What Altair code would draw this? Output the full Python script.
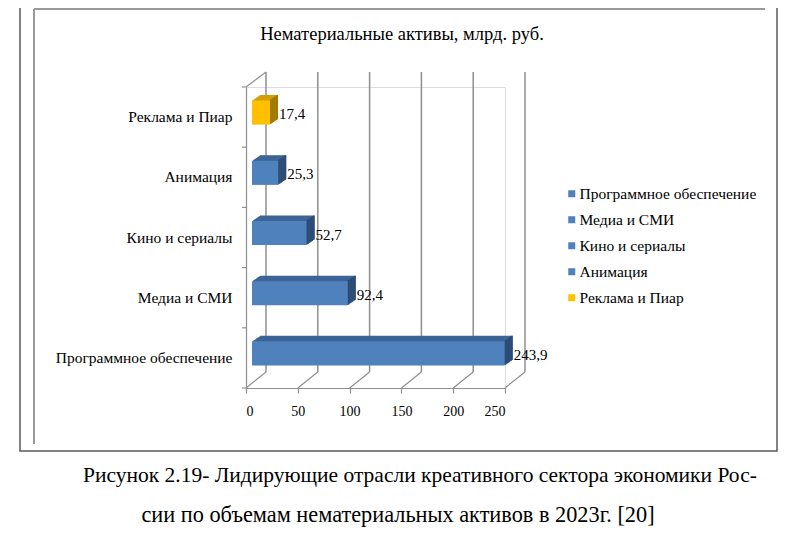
import altair as alt
import pandas as pd

# ---- data ----
categories = ["Программное обеспечение", "Медиа и СМИ", "Кино и сериалы", "Анимация", "Реклама и Пиар"]
values = [243.9, 92.4, 52.7, 25.3, 17.4]
value_labels = [str(v).replace(".", ",") for v in values]
front_colors = ["#4F81BD", "#4F81BD", "#4F81BD", "#4F81BD", "#FFC000"]
top_colors = ["#3C6496", "#3C6496", "#3C6496", "#3C6496", "#D49F00"]
side_colors = ["#2E4D75", "#2E4D75", "#2E4D75", "#2E4D75", "#A37A00"]
x_ticks = [0, 50, 100, 150, 200, 250]
title_text = "Нематериальные активы, млрд. руб."
caption_1 = "Рисунок 2.19- Лидирующие отрасли креативного сектора экономики Рос-"
caption_2 = "сии по объемам нематериальных активов в 2023г. [20]"

df = pd.DataFrame({"cat": categories, "val": values, "lbl": value_labels,
                   "front": front_colors, "top": top_colors, "side": side_colors})
ticks_df = pd.DataFrame({"val": x_ticks})
one = pd.DataFrame({"k": [0]})

FONT = "Liberation Serif"
W, H = 259, 301
order = categories[::-1]
GRID = "#8f8f8f"

xs = alt.Scale(domain=[0, 250], nice=False, zero=True)
ys = alt.Scale(domain=order, paddingInner=0.6, paddingOuter=0.3)

AX_X = alt.Axis(values=x_ticks, title=None, grid=False, labelFont=FONT, labelFontSize=14,
                labelColor="black", domainColor=GRID, domainWidth=1.2, tickColor=GRID,
                tickWidth=1.2, tickSize=5, labelPadding=11)
AX_Y = alt.Axis(title=None, ticks=False, labelFont=FONT, labelFontSize=15.5, labelColor="black",
                labelPadding=14, domainColor=GRID, domainWidth=1.2, labelLimit=400)

XE = alt.X("val:Q", scale=xs, axis=AX_X)
YE = alt.Y("cat:N", scale=ys, axis=AX_Y)

layers = []

# 3D bar: top sweep
N = 10
for i in range(N, 0, -1):
    f = i / N
    dx = 6 + 8 * f
    dy = -4.5 - 5.5 * f
    layers.append(alt.Chart(df).mark_bar(xOffset=dx, x2Offset=dx, yOffset=dy, y2Offset=dy).encode(
        x=XE, y=YE, color=alt.Color("top:N", scale=None)))
# side strips
for i in range(N, 0, -1):
    f = i / N
    dx = 6 + 8 * f
    dy = -4.5 - 5.5 * f
    layers.append(alt.Chart(df).mark_bar(xOffset=dx - 1.3, x2Offset=dx, yOffset=dy, y2Offset=dy).encode(
        x=XE, x2=alt.X2("val"), y=YE, color=alt.Color("side:N", scale=None)))

# front faces with legend
layers.append(alt.Chart(df).mark_bar(xOffset=6, x2Offset=6, yOffset=-4.5, y2Offset=-4.5).encode(
    x=XE, y=YE,
    color=alt.Color("cat:N", scale=alt.Scale(domain=categories, range=front_colors),
                    legend=alt.Legend(orient="none", legendX=318, legendY=99, title=None,
                                      symbolType="square", symbolSize=49, symbolStrokeWidth=0,
                                      labelFont=FONT, labelFontSize=15.5, labelColor="black",
                                      labelOffset=0, rowPadding=9, padding=0, labelLimit=400)),
))

# value labels
layers.append(alt.Chart(df).mark_text(align="left", baseline="middle", dx=15, dy=-3, font=FONT,
                                      fontSize=15, color="black").encode(
    x=XE, y=YE, text="lbl:N"))

# back wall grid
layers.insert(0, alt.Chart(ticks_df).mark_rule(xOffset=20, color=GRID, strokeWidth=1.5).encode(
    x=XE, y=alt.value(-15), y2=alt.value(285)))
# floor diagonals
layers.insert(0, alt.Chart(ticks_df).mark_rule(x2Offset=20, color=GRID, strokeWidth=1.2).encode(
    x=XE, x2=alt.X2("val"), y=alt.value(301), y2=alt.value(285)))
# y ticks at band boundaries
layers.insert(0, alt.Chart(df).mark_rule(yOffset=-30.1, color=GRID, strokeWidth=1.2).encode(
    y=YE, x=alt.value(-4), x2=alt.value(0)))

# left wall top diagonal, bottom tick
layers.append(alt.Chart(one).mark_rule(color=GRID, strokeWidth=1.2).encode(
    x=alt.value(0), x2=alt.value(20), y=alt.value(0), y2=alt.value(-15)))
layers.append(alt.Chart(one).mark_rule(color=GRID, strokeWidth=1.2).encode(
    y=alt.value(301), x=alt.value(-4), x2=alt.value(0)))

# frames
layers.append(alt.Chart(one).mark_rect(filled=False, stroke="#5a5a5a", strokeWidth=1.5).encode(
    x=alt.value(-226), x2=alt.value(531), y=alt.value(-85), y2=alt.value(364)))
layers.append(alt.Chart(one).mark_rule(color="#9a9a9a", strokeWidth=2).encode(
    x=alt.value(-212), x2=alt.value(-212), y=alt.value(-78), y2=alt.value(357)))
layers.append(alt.Chart(one).mark_rule(color="#9a9a9a", strokeWidth=2).encode(
    x=alt.value(-212), x2=alt.value(519), y=alt.value(-78), y2=alt.value(-78)))

# title & caption
layers.append(alt.Chart(one).mark_text(align="center", baseline="alphabetic", font=FONT, fontSize=18.5,
                                       color="black", text=title_text).encode(
    x=alt.value(156), y=alt.value(-47)))
layers.append(alt.Chart(one).mark_text(align="left", baseline="alphabetic", font=FONT, fontSize=21.5,
                                       color="black", text=caption_1).encode(
    x=alt.value(-163), y=alt.value(395)))
layers.append(alt.Chart(one).mark_text(align="center", baseline="alphabetic", font=FONT, fontSize=22.3,
                                       color="black", text=caption_2).encode(
    x=alt.value(152), y=alt.value(435)))

chart = alt.layer(*layers).resolve_scale(color="independent").properties(
    width=W, height=H, autosize="none",
    padding={"left": 238, "top": 79, "right": 287, "bottom": 150},
).configure_view(stroke=None).configure(background="white")

chart.save("out.html", embed_options={"renderer": "svg", "actions": False})
